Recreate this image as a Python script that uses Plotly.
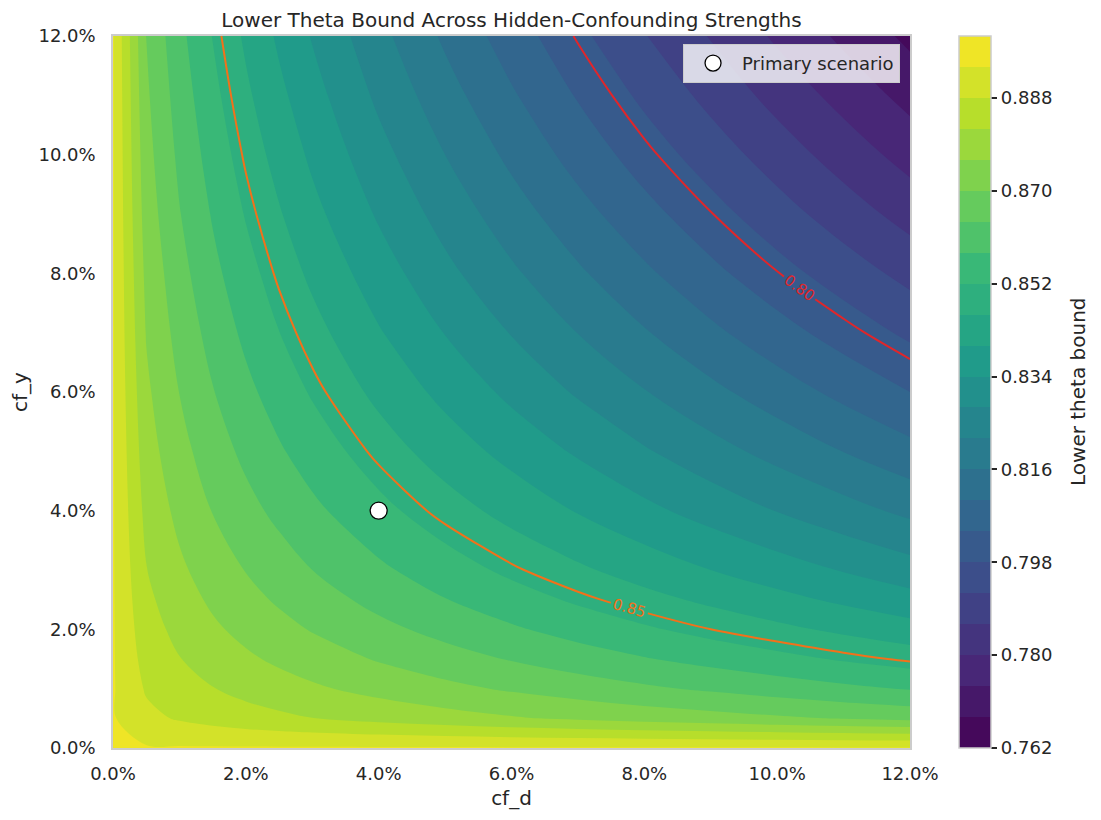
import plotly.graph_objects as go
from plotly.colors import sample_colorscale

# confounding strengths on both axes (fractions)
cf_d = [0, 0.005, 0.01, 0.015, 0.02, 0.025, 0.03, 0.04, 0.05, 0.06, 0.07, 0.08, 0.09, 0.10, 0.11, 0.12]
cf_y = [0, 0.005, 0.01, 0.015, 0.02, 0.025, 0.03, 0.04, 0.05, 0.06, 0.07, 0.08, 0.09, 0.10, 0.11, 0.12]

# lower theta bound, one row per cf_y value, one column per cf_d value
theta_lower = [
    [0.8945, 0.8945, 0.8945, 0.8945, 0.8945, 0.8945, 0.8945, 0.8945, 0.8945, 0.8945, 0.8945, 0.8945, 0.8945, 0.8945, 0.8945, 0.8945],
    [0.8945, 0.8895, 0.8874, 0.8858, 0.8844, 0.8832, 0.8821, 0.8801, 0.8783, 0.8766, 0.8751, 0.8736, 0.8723, 0.8709, 0.8696, 0.8684],
    [0.8945, 0.8874, 0.8845, 0.8822, 0.8802, 0.8785, 0.8769, 0.8741, 0.8716, 0.8692, 0.8671, 0.8650, 0.8631, 0.8612, 0.8593, 0.8576],
    [0.8945, 0.8858, 0.8822, 0.8794, 0.8770, 0.8749, 0.8730, 0.8695, 0.8664, 0.8636, 0.8609, 0.8584, 0.8560, 0.8537, 0.8514, 0.8493],
    [0.8945, 0.8845, 0.8803, 0.8770, 0.8743, 0.8719, 0.8696, 0.8656, 0.8621, 0.8588, 0.8557, 0.8528, 0.8500, 0.8474, 0.8448, 0.8423],
    [0.8945, 0.8833, 0.8786, 0.8750, 0.8719, 0.8692, 0.8667, 0.8622, 0.8582, 0.8546, 0.8511, 0.8479, 0.8448, 0.8418, 0.8389, 0.8361],
    [0.8945, 0.8822, 0.8771, 0.8731, 0.8698, 0.8668, 0.8640, 0.8591, 0.8548, 0.8507, 0.8470, 0.8434, 0.8400, 0.8368, 0.8336, 0.8305],
    [0.8945, 0.8803, 0.8744, 0.8698, 0.8659, 0.8625, 0.8593, 0.8537, 0.8486, 0.8440, 0.8396, 0.8355, 0.8316, 0.8278, 0.8242, 0.8206],
    [0.8945, 0.8786, 0.8720, 0.8669, 0.8626, 0.8587, 0.8552, 0.8489, 0.8432, 0.8380, 0.8332, 0.8286, 0.8242, 0.8200, 0.8159, 0.8119],
    [0.8945, 0.8771, 0.8699, 0.8643, 0.8595, 0.8553, 0.8514, 0.8445, 0.8383, 0.8326, 0.8273, 0.8223, 0.8175, 0.8129, 0.8084, 0.8040],
    [0.8945, 0.8757, 0.8679, 0.8619, 0.8567, 0.8521, 0.8480, 0.8405, 0.8338, 0.8277, 0.8219, 0.8165, 0.8113, 0.8063, 0.8015, 0.7968],
    [0.8945, 0.8745, 0.8661, 0.8596, 0.8541, 0.8492, 0.8448, 0.8368, 0.8296, 0.8230, 0.8169, 0.8111, 0.8055, 0.8002, 0.7951, 0.7901],
    [0.8945, 0.8732, 0.8643, 0.8575, 0.8516, 0.8465, 0.8417, 0.8333, 0.8257, 0.8187, 0.8122, 0.8060, 0.8002, 0.7945, 0.7890, 0.7837],
    [0.8945, 0.8721, 0.8627, 0.8555, 0.8493, 0.8439, 0.8389, 0.8300, 0.8220, 0.8146, 0.8077, 0.8012, 0.7951, 0.7891, 0.7833, 0.7777],
    [0.8945, 0.8710, 0.8612, 0.8536, 0.8471, 0.8414, 0.8362, 0.8268, 0.8184, 0.8107, 0.8035, 0.7967, 0.7902, 0.7839, 0.7779, 0.7720],
    [0.8945, 0.8699, 0.8597, 0.8518, 0.8450, 0.8390, 0.8336, 0.8238, 0.8150, 0.8070, 0.7995, 0.7923, 0.7856, 0.7790, 0.7727, 0.7666],
]

# filled contour levels and colorbar ticks
level_start = 0.762
level_end = 0.900
level_step = 0.006
cbar_ticks = [0.762, 0.780, 0.798, 0.816, 0.834, 0.852, 0.870, 0.888]

# highlighted contour lines
line_levels = [0.80, 0.85]
line_colors = ["#e0262a", "#f2711a"]

# primary scenario point
primary_d = [0.04]
primary_y = [0.04]

axis_ticks = [0, 0.02, 0.04, 0.06, 0.08, 0.10, 0.12]

FONT = "DejaVu Sans, Verdana, sans-serif"
TEXT = "#262626"
SPINE = "#cccccc"

# the page body adds an 8px margin, so the figure is drawn 8px smaller
W, H = 1093, 812
L, T = 105, 28
PW, PH = 797, 712

# discrete viridis: band k gets the colour matplotlib would give its midpoint
n_bands = int(round((level_end - level_start) / level_step))
band_cols = sample_colorscale("Viridis", [(k + 0.5) / n_bands for k in range(n_bands)])

# contour fill: plotly evaluates band k at (k+1)/(n_bands+1) of its colour domain
fill_scale = [[0, band_cols[0]]]
for k in range(n_bands):
    fill_scale.append([(k + 1) / (n_bands + 1), band_cols[k]])
fill_scale.append([1, band_cols[-1]])

# stepped scale for the colorbar so it spans exactly level_start..level_end
bar_scale = []
for k in range(n_bands):
    bar_scale.append([k / n_bands, band_cols[k]])
    bar_scale.append([(k + 1) / n_bands, band_cols[k]])

fig = go.Figure()

fig.add_trace(
    go.Contour(
        x=cf_d,
        y=cf_y,
        z=theta_lower,
        colorscale=fill_scale,
        contours=dict(start=level_start, end=level_end, size=level_step, coloring="fill", showlines=False),
        line=dict(width=0),
        hoverinfo="skip",
        showlegend=False,
        showscale=False,
    )
)

for lvl, col in zip(line_levels, line_colors):
    fig.add_trace(
        go.Contour(
            x=cf_d,
            y=cf_y,
            z=theta_lower,
            contours=dict(
                start=lvl,
                end=lvl,
                size=0.05,
                coloring="none",
                showlabels=True,
                labelformat=".2f",
                labelfont=dict(size=15, color=col, family=FONT),
            ),
            line=dict(color=col, width=2),
            showscale=False,
            hoverinfo="skip",
            showlegend=False,
        )
    )

# invisible point that only carries the colorbar
fig.add_trace(
    go.Scatter(
        x=[0.06],
        y=[0.06],
        mode="markers",
        hoverinfo="skip",
        showlegend=False,
        marker=dict(
            size=1,
            opacity=0,
            color=[0.83],
            cmin=level_start,
            cmax=level_end,
            colorscale=bar_scale,
            showscale=True,
            colorbar=dict(
                x=(959 - 113) / PW,
                xanchor="left",
                xpad=0,
                ypad=0,
                y=0.5,
                yanchor="middle",
                len=1,
                lenmode="fraction",
                thickness=32,
                thicknessmode="pixels",
                outlinecolor=SPINE,
                outlinewidth=1.5,
                tickvals=cbar_ticks,
                tickformat=".3f",
                ticks="outside",
                ticklen=6,
                tickwidth=1.5,
                tickcolor=TEXT,
                tickfont=dict(size=18, color=TEXT, family=FONT),
            ),
        ),
    )
)

fig.add_trace(
    go.Scatter(
        x=primary_d,
        y=primary_y,
        mode="markers",
        name="Primary scenario",
        marker=dict(size=17, color="white", line=dict(color="black", width=1.3)),
    )
)

axis_common = dict(
    range=[0, 0.12],
    tickvals=axis_ticks,
    tickformat=".1%",
    showgrid=False,
    zeroline=False,
    showline=True,
    mirror=True,
    linecolor=SPINE,
    linewidth=1.5,
    ticks="outside",
    tickcolor="rgba(0,0,0,0)",
    tickfont=dict(size=18, color=TEXT, family=FONT),
    automargin=False,
)

fig.update_layout(
    width=W,
    height=H,
    margin=dict(l=L, r=W - L - PW, t=T, b=H - T - PH),
    paper_bgcolor="white",
    plot_bgcolor="white",
    font=dict(family=FONT, color=TEXT),
    title=dict(
        text="Lower Theta Bound Across Hidden-Confounding Strengths",
        x=(L + PW / 2) / W,
        xanchor="center",
        y=1 - 12 / H,
        yanchor="middle",
        font=dict(size=20, color=TEXT, family=FONT),
    ),
    xaxis=dict(
        axis_common,
        ticklen=9,
        title=dict(text="cf_d", font=dict(size=20, color=TEXT, family=FONT), standoff=8),
    ),
    yaxis=dict(
        axis_common,
        ticklen=12,
        title=dict(text="cf_y", font=dict(size=20, color=TEXT, family=FONT), standoff=10),
    ),
    legend=dict(
        x=0.9875,
        y=0.989,
        xanchor="right",
        yanchor="top",
        itemwidth=48,
        bgcolor="rgba(255,255,255,0.8)",
        bordercolor=SPINE,
        borderwidth=1,
        font=dict(size=18, color=TEXT, family=FONT),
    ),
    annotations=[
        dict(
            text="Lower theta bound",
            xref="paper",
            yref="paper",
            x=(1078 - 113) / PW,
            y=0.5,
            xanchor="center",
            yanchor="middle",
            textangle=-90,
            showarrow=False,
            font=dict(size=20, color=TEXT, family=FONT),
        )
    ],
)

fig.write_html("out.html")
